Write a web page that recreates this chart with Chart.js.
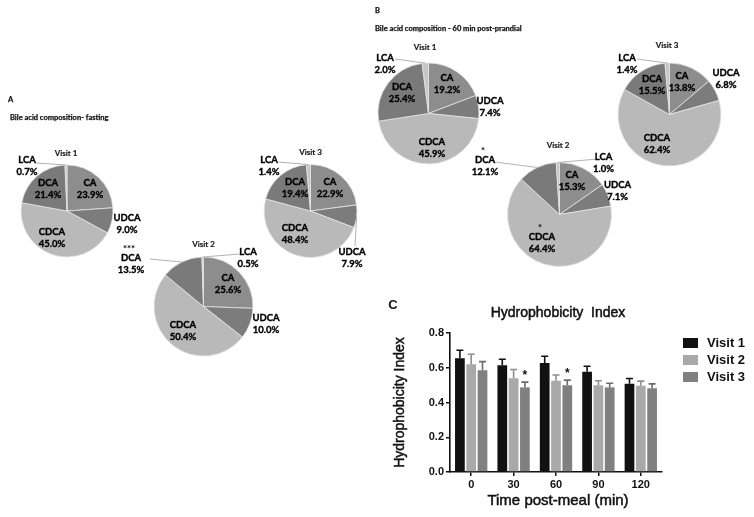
<!DOCTYPE html>
<html>
<head>
<meta charset="utf-8">
<script src="https://cdn.jsdelivr.net/npm/chart.js@4"></script>
<style>
html, body { margin: 0; padding: 0; background: #fff; }
#wrap { position: relative; width: 754px; height: 517px; overflow: hidden; }
#wrap canvas { position: absolute; left: 0; top: 0; }
</style>
</head>
<body>
<div id="wrap"></div>
<script>
// bile acid composition (%), slice order clockwise from 12 o'clock
const acids = ['CA', 'UDCA', 'CDCA', 'DCA', 'LCA'];
const fastV1 = [23.9, 9.0, 45.0, 21.4, 0.7];
const fastV2 = [25.6, 10.0, 50.4, 13.5, 0.5];
const fastV3 = [22.9, 7.9, 48.4, 19.4, 1.4];
const postV1 = [19.2, 7.4, 45.9, 25.4, 2.0];
const postV2 = [15.3, 7.1, 64.4, 12.1, 1.0];
const postV3 = [13.8, 6.8, 62.4, 15.5, 1.4];
const fastV2Sig = ['', '', '', '***', ''];
const postV2Sig = ['', '', '*', '*', ''];

// hydrophobicity index
const timePoints = ['0', '30', '60', '90', '120'];
const hiVisit1 = [0.655, 0.615, 0.628, 0.577, 0.508];
const hiVisit2 = [0.620, 0.540, 0.525, 0.499, 0.496];
const hiVisit3 = [0.585, 0.487, 0.499, 0.487, 0.482];
const hiErr1 = [0.046, 0.034, 0.038, 0.032, 0.030];
const hiErr2 = [0.058, 0.050, 0.033, 0.026, 0.027];
const hiErr3 = [0.050, 0.030, 0.030, 0.024, 0.025];
const hiSig3 = ['', '*', '*', '', ''];

const sliceColors = ['#8d8d8d', '#7c7c7c', '#b9b9b9', '#7a7a7a', '#c6c6c6'];
const visitColors = ['#111111', '#a9a9a9', '#808080'];
const errColors = ['#111111', '#8e8e8e', '#6a6a6a'];

// layout: pie centre/radius, label offsets (CA, UDCA, CDCA, DCA, LCA), leader starts
const pies = [
	{ data: fastV1, title: 'Visit 1', cx: 67, cy: 211, r: 46, tdx: -1, tdy: -58,
	  pos: [[23, -28], [60, 7], [-15, 21], [-19, -28], [-40, -51]],
	  lead: { 4: [-31, -48] },
	  panel: { letter: 'A', lx: 8, ly: 100, text: 'Bile acid composition- fasting', tx: 10, ty: 118 } },
	{ data: fastV2, title: 'Visit 2', cx: 203.5, cy: 306.5, r: 49.5, tdx: 0, tdy: -62.5, sig: fastV2Sig,
	  pos: [[24.5, -28.5], [62.5, 11.5], [-20.5, 18.5], [-72.5, -48.5], [44.5, -54.5]],
	  lead: { 3: [-53.5, -47.5], 4: [36.5, -52.5] } },
	{ data: fastV3, title: 'Visit 3', cx: 310.5, cy: 211, r: 46.5, tdx: 0, tdy: -59,
	  pos: [[19.5, -29], [41.5, 41], [-15.5, 17], [-15.5, -29], [-41.5, -51]],
	  lead: { 1: [44.5, 35], 4: [-32, -49] } },
	{ data: postV1, title: 'Visit 1', cx: 428.5, cy: 113.5, r: 50.5, tdx: -3.5, tdy: -66.5,
	  pos: [[18.5, -35.5], [61.5, -12.5], [3.5, 28.5], [-26.5, -26.5], [-43.5, -55.5]],
	  lead: { 4: [-33.5, -54.5] },
	  panel: { letter: 'B', lx: 375, ly: 11, text: 'Bile acid composition - 60 min post-prandial', tx: 375, ty: 29 } },
	{ data: postV2, title: 'Visit 2', cx: 559.5, cy: 214.5, r: 52, tdx: -1.5, tdy: -69.5, sig: postV2Sig,
	  pos: [[12.5, -39.5], [58, -29.5], [-17.5, 22.5], [-74.5, -54.5], [44, -57.5]],
	  lead: { 3: [-64.5, -52.5], 4: [37.5, -55.5] } },
	{ data: postV3, title: 'Visit 3', cx: 669.5, cy: 114.5, r: 51.5, tdx: -2.5, tdy: -69.5,
	  pos: [[12.5, -38.5], [56.5, -41.5], [-12.5, 23.5], [-17.5, -35.5], [-42.5, -56.5]],
	  lead: { 4: [-32.5, -55.5] } }
];

const W = 754, H = 517;

function makeCanvas(){
	const c = document.createElement('canvas');
	c.width = W; c.height = H;
	document.getElementById('wrap').appendChild(c);
	return c;
}

// fill plus a hairline stroke so the small text reads as heavy as the scan
function heavyText(ctx, txt, x, y, w){
	ctx.lineWidth = w;
	ctx.strokeStyle = ctx.fillStyle;
	ctx.strokeText(txt, x, y);
	ctx.fillText(txt, x, y);
}

function pieLabels(p){
	return {
		id: 'pieLabels',
		afterDatasetsDraw(chart){
			const ctx = chart.ctx;
			const arcs = chart.getDatasetMeta(0).data;
			const cx = arcs[0].x, cy = arcs[0].y;
			ctx.save();
			ctx.strokeStyle = '#a0a0a0';
			ctx.lineWidth = 0.8;
			Object.keys(p.lead).forEach(k => {
				const a = arcs[k];
				const mid = (a.startAngle + a.endAngle) / 2;
				const R = a.outerRadius;
				ctx.beginPath();
				ctx.moveTo(cx + p.lead[k][0], cy + p.lead[k][1]);
				ctx.lineTo(cx + Math.cos(mid) * R, cy + Math.sin(mid) * R);
				ctx.stroke();
			});
			ctx.fillStyle = '#000';
			ctx.textAlign = 'center';
			ctx.textBaseline = 'middle';
			ctx.font = 'bold 9.5px Lato';
			p.data.forEach((v, i) => {
				const [dx, dy] = p.pos[i];
				heavyText(ctx, acids[i], cx + dx, cy + dy, 0.35);
				heavyText(ctx, v.toFixed(1) + '%', cx + dx, cy + dy + 11.5, 0.35);
				if(p.sig && p.sig[i]){
					ctx.fillText(p.sig[i], cx + dx - 2, cy + dy - 9);
				}
			});
			ctx.fillStyle = '#222';
			ctx.font = 'bold 8px Lato';
			heavyText(ctx, p.title, cx + p.tdx, cy + p.tdy, 0.2);
			if(p.panel){
				ctx.textAlign = 'left';
				ctx.fillStyle = '#111';
				ctx.font = 'bold 7.5px Lato';
				heavyText(ctx, p.panel.letter, p.panel.lx, p.panel.ly, 0.25);
				heavyText(ctx, p.panel.text, p.panel.tx, p.panel.ty, 0.25);
			}
			ctx.restore();
		}
	};
}

pies.forEach(p => {
	const h = p.r + 4;
	new Chart(makeCanvas(), {
		type: 'pie',
		data: {
			labels: acids,
			datasets: [{ data: p.data, backgroundColor: sliceColors, borderColor: '#e4e4e4', borderWidth: 0.8, radius: p.r }]
		},
		options: {
			responsive: false, animation: false, devicePixelRatio: 1,
			layout: { padding: { left: p.cx - h, right: W - p.cx - h, top: p.cy - h, bottom: H - p.cy - h } },
			plugins: { legend: { display: false }, tooltip: { enabled: false }, title: { display: false } }
		},
		plugins: [pieLabels(p)]
	});
});

// bar chart extras: error bars, stars, title, legend, axis titles
const errs = [hiErr1, hiErr2, hiErr3];
const sigs = [null, null, hiSig3];
const barExtras = {
	id: 'barExtras',
	afterDatasetsDraw(chart){
		const ctx = chart.ctx;
		const ys = chart.scales.y;
		const area = chart.chartArea;
		ctx.save();
		chart.data.datasets.forEach((ds, d) => {
			const meta = chart.getDatasetMeta(d);
			meta.data.forEach((bar, i) => {
				const top = ys.getPixelForValue(ds.data[i] + errs[d][i]);
				ctx.strokeStyle = errColors[d];
				ctx.lineWidth = 1.6;
				ctx.beginPath();
				ctx.moveTo(bar.x, bar.y);
				ctx.lineTo(bar.x, top);
				ctx.moveTo(bar.x - 3.5, top);
				ctx.lineTo(bar.x + 3.5, top);
				ctx.stroke();
				if(sigs[d] && sigs[d][i]){
					ctx.fillStyle = '#111';
					ctx.font = 'bold 12px "Liberation Sans"';
					ctx.textAlign = 'center';
					ctx.textBaseline = 'middle';
					ctx.fillText(sigs[d][i], bar.x, top - 6);
				}
			});
		});
		ctx.fillStyle = '#111';
		ctx.textAlign = 'center';
		ctx.textBaseline = 'middle';
		ctx.font = '14px "Liberation Sans"';
		heavyText(ctx, 'Hydrophobicity  Index', 558, 313, 0.5);
		ctx.font = '15px "Liberation Sans"';
		heavyText(ctx, 'Time post-meal (min)', 558, 501, 0.5);
		ctx.save();
		ctx.translate(400, (area.top + area.bottom) / 2);
		ctx.rotate(-Math.PI / 2);
		ctx.font = '14px "Liberation Sans"';
		heavyText(ctx, 'Hydrophobicity Index', 0, 0, 0.5);
		ctx.restore();
		ctx.font = 'bold 13px "Liberation Sans"';
		ctx.fillText('C', 393, 305);
		ctx.textAlign = 'left';
		chart.data.datasets.forEach((ds, d) => {
			const y = 343 + d * 17;
			ctx.fillStyle = visitColors[d];
			ctx.fillRect(683, y - 5, 15, 10);
			ctx.fillStyle = '#111';
			ctx.font = 'bold 13px "Liberation Sans"';
			ctx.fillText(ds.label, 707, y + 0.5);
		});
		ctx.restore();
	}
};

new Chart(makeCanvas(), {
	type: 'bar',
	data: {
		labels: timePoints,
		datasets: [
			{ label: 'Visit 1', data: hiVisit1, backgroundColor: visitColors[0] },
			{ label: 'Visit 2', data: hiVisit2, backgroundColor: visitColors[1] },
			{ label: 'Visit 3', data: hiVisit3, backgroundColor: visitColors[2] }
		]
	},
	options: {
		responsive: false, animation: false, devicePixelRatio: 1,
		categoryPercentage: 0.8, barPercentage: 0.86,
		layout: { padding: { left: 410, right: 92, top: 333, bottom: 25 } },
		scales: {
			x: {
				afterFit(s){ s.height = 20; },
				grid: { display: true, drawOnChartArea: false, offset: false, tickLength: 4, color: '#111', lineWidth: 1.5 },
				border: { color: '#111', width: 1.6 },
				ticks: { color: '#111', padding: 2, font: { family: 'Liberation Sans', size: 11, weight: 'bold' } }
			},
			y: {
				min: 0, max: 0.8,
				afterFit(s){ s.width = 40; },
				grid: { display: true, drawOnChartArea: false, tickLength: 4, color: '#111', lineWidth: 1.5 },
				border: { color: '#111', width: 1.6 },
				ticks: { stepSize: 0.2, color: '#111', padding: 2, font: { family: 'Liberation Sans', size: 11, weight: 'bold' },
					callback: v => v.toFixed(1) }
			}
		},
		plugins: { legend: { display: false }, tooltip: { enabled: false }, title: { display: false } }
	},
	plugins: [barExtras]
});
</script>
</body>
</html>
